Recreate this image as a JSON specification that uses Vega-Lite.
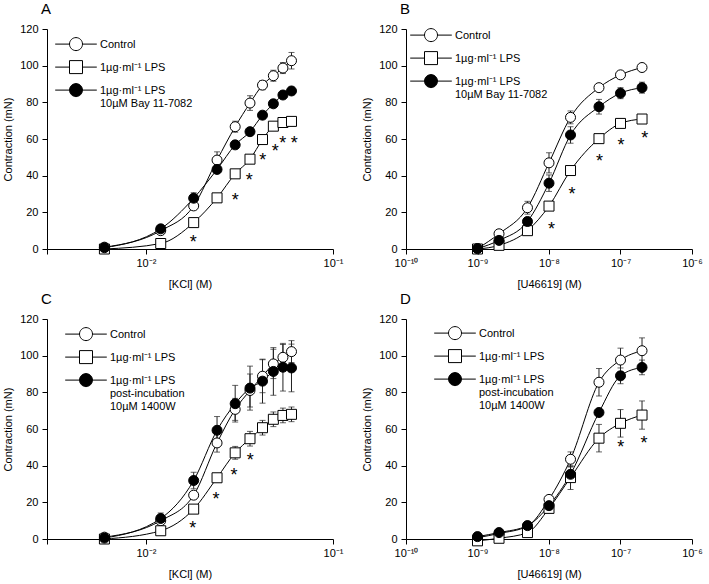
{
  "$schema": "https://vega.github.io/schema/vega-lite/v6.json",
  "padding": {"left": 2, "top": 2, "right": 2, "bottom": 2},
  "config": {
    "font": "Liberation Sans",
    "view": {"stroke": null},
    "style": {"guide-label": {"lineHeight": 13}},
    "axis": {"domainColor": "black", "tickColor": "black", "labelColor": "black", "titleColor": "black", "labelFontSize": 11, "titleFontSize": 11, "titleFontWeight": "normal", "grid": false, "tickSize": 5, "labelFont": "Liberation Sans", "titleFont": "Liberation Sans"},
    "axisY": {"labelPadding": 4, "titlePadding": 6},
    "axisX": {"labelPadding": 3, "titlePadding": 10, "labelFlush": false},
    "title": {"anchor": "start", "frame": "group", "fontSize": 15, "fontWeight": "normal", "offset": 6, "dx": -6, "font": "Liberation Sans", "color": "black"},
    "legend": {"orient": "none", "title": null, "symbolSize": 169, "labelOffset": 17, "rowPadding": 5, "labelFontSize": 11, "labelFont": "Liberation Sans", "labelColor": "black", "labelBaseline": "alphabetic", "symbolStrokeWidth": 1, "symbolOpacity": 1, "padding": 0, "labelLimit": 0},
    "concat": {"spacing": 18}
  },
  "datasets": {
    "A": [
      {"c": 0.006, "s": "ctl", "y": 1, "e": 0.5}, {"c": 0.012, "s": "ctl", "y": 10, "e": 1}, {"c": 0.018, "s": "ctl", "y": 23.5, "e": 2}, {"c": 0.024, "s": "ctl", "y": 48.5, "e": 4.5}, {"c": 0.030, "s": "ctl", "y": 66.7, "e": 3}, {"c": 0.036, "s": "ctl", "y": 79.6, "e": 4}, {"c": 0.042, "s": "ctl", "y": 89.4, "e": 2.5}, {"c": 0.048, "s": "ctl", "y": 94.5, "e": 3}, {"c": 0.054, "s": "ctl", "y": 98.7, "e": 3}, {"c": 0.060, "s": "ctl", "y": 102.7, "e": 4.5},
      {"c": 0.006, "s": "lps", "y": 0, "e": 0.5}, {"c": 0.012, "s": "lps", "y": 3, "e": 1}, {"c": 0.018, "s": "lps", "y": 14.4, "e": 1.5}, {"c": 0.024, "s": "lps", "y": 27.9, "e": 2}, {"c": 0.030, "s": "lps", "y": 41, "e": 2}, {"c": 0.036, "s": "lps", "y": 49, "e": 2}, {"c": 0.042, "s": "lps", "y": 59.7, "e": 2}, {"c": 0.048, "s": "lps", "y": 67, "e": 2}, {"c": 0.054, "s": "lps", "y": 69, "e": 2}, {"c": 0.060, "s": "lps", "y": 69.6, "e": 2},
      {"c": 0.006, "s": "trt", "y": 0.7, "e": 0.5}, {"c": 0.012, "s": "trt", "y": 11, "e": 1.5}, {"c": 0.018, "s": "trt", "y": 27.7, "e": 3}, {"c": 0.024, "s": "trt", "y": 43.4, "e": 2}, {"c": 0.030, "s": "trt", "y": 56.8, "e": 2}, {"c": 0.036, "s": "trt", "y": 64, "e": 2}, {"c": 0.042, "s": "trt", "y": 73, "e": 2}, {"c": 0.048, "s": "trt", "y": 79.2, "e": 2}, {"c": 0.054, "s": "trt", "y": 84, "e": 2}, {"c": 0.060, "s": "trt", "y": 86.2, "e": 2}
    ],
    "Aa": [
      {"c": 0.0179, "y": 5.8}, {"c": 0.0300, "y": 29.1}, {"c": 0.0357, "y": 39.7}, {"c": 0.0421, "y": 50.6}, {"c": 0.0491, "y": 55.5}, {"c": 0.0538, "y": 60}, {"c": 0.0621, "y": 60}
    ],
    "B": [
      {"c": 1e-9, "s": "ctl", "y": 0.2, "e": 0.5}, {"c": 2e-9, "s": "ctl", "y": 8.3, "e": 1}, {"c": 5e-9, "s": "ctl", "y": 22.5, "e": 3.5}, {"c": 1e-8, "s": "ctl", "y": 47, "e": 5.5}, {"c": 2e-8, "s": "ctl", "y": 71.8, "e": 3.5}, {"c": 5e-8, "s": "ctl", "y": 88, "e": 1.5}, {"c": 1e-7, "s": "ctl", "y": 95, "e": 1.5}, {"c": 2e-7, "s": "ctl", "y": 99, "e": 1.5},
      {"c": 1e-9, "s": "lps", "y": 0, "e": 0.3}, {"c": 2e-9, "s": "lps", "y": 2, "e": 0.5}, {"c": 5e-9, "s": "lps", "y": 10, "e": 1}, {"c": 1e-8, "s": "lps", "y": 23.4, "e": 1.5}, {"c": 2e-8, "s": "lps", "y": 42.8, "e": 2}, {"c": 5e-8, "s": "lps", "y": 60.2, "e": 2}, {"c": 1e-7, "s": "lps", "y": 68.5, "e": 2}, {"c": 2e-7, "s": "lps", "y": 70.9, "e": 2},
      {"c": 1e-9, "s": "trt", "y": 0.2, "e": 0.5}, {"c": 2e-9, "s": "trt", "y": 4.7, "e": 1}, {"c": 5e-9, "s": "trt", "y": 15, "e": 2}, {"c": 1e-8, "s": "trt", "y": 35.9, "e": 4.5}, {"c": 2e-8, "s": "trt", "y": 62.2, "e": 4.5}, {"c": 5e-8, "s": "trt", "y": 77.6, "e": 4}, {"c": 1e-7, "s": "trt", "y": 85, "e": 3}, {"c": 2e-7, "s": "trt", "y": 88, "e": 3}
    ],
    "Ba": [
      {"c": 1.08e-8, "y": 12.9}, {"c": 2.1e-8, "y": 32.4}, {"c": 5.08e-8, "y": 50.4}, {"c": 1.02e-7, "y": 59}, {"c": 2.18e-7, "y": 63}
    ],
    "C": [
      {"c": 0.006, "s": "ctl", "y": 1, "e": 0.5}, {"c": 0.012, "s": "ctl", "y": 10, "e": 1}, {"c": 0.018, "s": "ctl", "y": 23.9, "e": 2}, {"c": 0.024, "s": "ctl", "y": 52.4, "e": 5}, {"c": 0.030, "s": "ctl", "y": 70.7, "e": 6}, {"c": 0.036, "s": "ctl", "y": 81, "e": 9}, {"c": 0.042, "s": "ctl", "y": 88.8, "e": 9}, {"c": 0.048, "s": "ctl", "y": 95.5, "e": 8}, {"c": 0.054, "s": "ctl", "y": 99.1, "e": 7}, {"c": 0.060, "s": "ctl", "y": 102.2, "e": 6},
      {"c": 0.006, "s": "lps", "y": 0, "e": 0.5}, {"c": 0.012, "s": "lps", "y": 4.5, "e": 1}, {"c": 0.018, "s": "lps", "y": 16.3, "e": 1.5}, {"c": 0.024, "s": "lps", "y": 33.4, "e": 2}, {"c": 0.030, "s": "lps", "y": 47, "e": 3.5}, {"c": 0.036, "s": "lps", "y": 54.7, "e": 4}, {"c": 0.042, "s": "lps", "y": 60.7, "e": 4}, {"c": 0.048, "s": "lps", "y": 65.3, "e": 4}, {"c": 0.054, "s": "lps", "y": 67.4, "e": 4}, {"c": 0.060, "s": "lps", "y": 68, "e": 4},
      {"c": 0.006, "s": "trt", "y": 0.5, "e": 0.5}, {"c": 0.012, "s": "trt", "y": 11.2, "e": 3}, {"c": 0.018, "s": "trt", "y": 31.9, "e": 4.5}, {"c": 0.024, "s": "trt", "y": 59.3, "e": 7.5}, {"c": 0.030, "s": "trt", "y": 73.8, "e": 10}, {"c": 0.036, "s": "trt", "y": 82.3, "e": 12}, {"c": 0.042, "s": "trt", "y": 86.1, "e": 12}, {"c": 0.048, "s": "trt", "y": 91.4, "e": 13}, {"c": 0.054, "s": "trt", "y": 93.7, "e": 13}, {"c": 0.060, "s": "trt", "y": 93.3, "e": 13}
    ],
    "Ca": [
      {"c": 0.0178, "y": 8}, {"c": 0.0237, "y": 23.9}, {"c": 0.0296, "y": 37.2}, {"c": 0.0361, "y": 45.1}
    ],
    "D": [
      {"c": 1e-9, "s": "ctl", "y": 0.7, "e": 0.5}, {"c": 2e-9, "s": "ctl", "y": 3, "e": 0.5}, {"c": 5e-9, "s": "ctl", "y": 7, "e": 1}, {"c": 1e-8, "s": "ctl", "y": 21.6, "e": 2}, {"c": 2e-8, "s": "ctl", "y": 43.5, "e": 4}, {"c": 5e-8, "s": "ctl", "y": 85.5, "e": 7.5}, {"c": 1e-7, "s": "ctl", "y": 97.6, "e": 6.5}, {"c": 2e-7, "s": "ctl", "y": 102.7, "e": 7},
      {"c": 1e-9, "s": "lps", "y": -1, "e": 0.5}, {"c": 2e-9, "s": "lps", "y": 0.4, "e": 0.5}, {"c": 5e-9, "s": "lps", "y": 3.5, "e": 1}, {"c": 1e-8, "s": "lps", "y": 16.7, "e": 2}, {"c": 2e-8, "s": "lps", "y": 33.5, "e": 6.5}, {"c": 5e-8, "s": "lps", "y": 55, "e": 7.5}, {"c": 1e-7, "s": "lps", "y": 63.1, "e": 7.5}, {"c": 2e-7, "s": "lps", "y": 67.6, "e": 7.7},
      {"c": 1e-9, "s": "trt", "y": 1.3, "e": 0.5}, {"c": 2e-9, "s": "trt", "y": 3.5, "e": 0.5}, {"c": 5e-9, "s": "trt", "y": 7.3, "e": 1}, {"c": 1e-8, "s": "trt", "y": 18.2, "e": 2}, {"c": 2e-8, "s": "trt", "y": 35.3, "e": 4}, {"c": 5e-8, "s": "trt", "y": 69, "e": 2}, {"c": 1e-7, "s": "trt", "y": 89, "e": 4.3}, {"c": 2e-7, "s": "trt", "y": 93.6, "e": 4}
    ],
    "Da": [
      {"c": 1.01e-7, "y": 52.2}, {"c": 2.13e-7, "y": 54.4}
    ]
  },
  "vconcat": [
    {
      "hconcat": [
        {
          "title": "A",
          "width": 286, "height": 220,
          "data": {"name": "A"},
          "encoding": {
            "x": {"field": "c", "type": "quantitative", "scale": {"type": "log", "domain": [0.00296, 0.1], "nice": false}, "axis": {"title": "[KCl] (M)", "values": [0.00296, 0.01, 0.1], "labelExpr": "datum.value > 0.05 ? '10⁻¹' : datum.value > 0.005 ? '10⁻²' : ''"}},
            "y": {"field": "y", "type": "quantitative", "scale": {"domain": [0, 120], "nice": false, "zero": false}, "axis": {"title": "Contraction (mN)", "values": [0, 20, 40, 60, 80, 100, 120]}}
          },
          "layer": [
            {"mark": {"type": "errorbar", "ticks": {"size": 6, "color": "#222"}, "rule": {"color": "#222"}}, "encoding": {"yError": {"field": "e"}}},
            {"mark": {"type": "line", "interpolate": "monotone", "color": "black", "strokeWidth": 1}, "encoding": {"detail": {"field": "s"}}},
            {"mark": {"type": "point", "filled": true, "stroke": "black", "strokeWidth": 1, "opacity": 1, "size": 100},
             "encoding": {"shape": {"field": "s", "scale": {"domain": ["ctl", "lps", "trt"], "range": ["circle", "square", "circle"]}, "legend": null},
                          "fill": {"field": "s", "scale": {"domain": ["ctl", "lps", "trt"], "range": ["white", "white", "black"]}, "legend": null}}},
            {"transform": [{"filter": "datum.c < 0"}],
             "mark": {"type": "point", "filled": true, "stroke": "black", "strokeWidth": 1, "opacity": 1},
             "encoding": {"shape": {"field": "s", "scale": {"domain": ["ctl", "lps", "trt"], "range": ["M-3.2,-0.6H-1M1,-0.6H3.2M1,-0.6A1,1,0,1,1,-1,-0.6A1,1,0,1,1,1,-0.6Z", "M-3.2,-0.6H-1M1,-0.6H3.2M-1,-1.6H1V0.4H-1Z", "M-3.2,-0.6H-1M1,-0.6H3.2M1,-0.6A1,1,0,1,1,-1,-0.6A1,1,0,1,1,1,-0.6Z"]},
                                    "legend": {"legendX": 22, "legendY": 12, "labelExpr": "datum.label == 'ctl' ? 'Control' : datum.label == 'lps' ? '1µg·ml⁻¹ LPS' : ['1µg·ml⁻¹ LPS', '10µM Bay 11-7082']"}},
                          "fill": {"field": "s", "scale": {"domain": ["ctl", "lps", "trt"], "range": ["white", "white", "black"]},
                                   "legend": {"legendX": 22, "legendY": 12, "labelExpr": "datum.label == 'ctl' ? 'Control' : datum.label == 'lps' ? '1µg·ml⁻¹ LPS' : ['1µg·ml⁻¹ LPS', '10µM Bay 11-7082']"}}}},
            {"data": {"name": "Aa"}, "mark": {"type": "text", "text": "*", "fontSize": 18, "baseline": "alphabetic", "dy": 10, "color": "black"}}
          ],
          "resolve": {"scale": {"shape": "independent", "fill": "independent"}}
        },
        {
          "title": "B",
          "width": 286, "height": 220,
          "data": {"name": "B"},
          "encoding": {
            "x": {"field": "c", "type": "quantitative", "scale": {"type": "log", "domain": [1e-10, 1e-6], "nice": false}, "axis": {"title": "[U46619] (M)", "values": [1e-10, 1e-9, 1e-8, 1e-7, 1e-6], "labelExpr": "datum.value > 5e-7 ? '10⁻⁶' : datum.value > 5e-8 ? '10⁻⁷' : datum.value > 5e-9 ? '10⁻⁸' : datum.value > 5e-10 ? '10⁻⁹' : '10⁻¹⁰'"}},
            "y": {"field": "y", "type": "quantitative", "scale": {"domain": [0, 120], "nice": false, "zero": false}, "axis": {"title": "Contraction (mN)", "values": [0, 20, 40, 60, 80, 100, 120]}}
          },
          "layer": [
            {"mark": {"type": "errorbar", "ticks": {"size": 6, "color": "#222"}, "rule": {"color": "#222"}}, "encoding": {"yError": {"field": "e"}}},
            {"mark": {"type": "line", "interpolate": "monotone", "color": "black", "strokeWidth": 1}, "encoding": {"detail": {"field": "s"}}},
            {"mark": {"type": "point", "filled": true, "stroke": "black", "strokeWidth": 1, "opacity": 1, "size": 100},
             "encoding": {"shape": {"field": "s", "scale": {"domain": ["ctl", "lps", "trt"], "range": ["circle", "square", "circle"]}, "legend": null},
                          "fill": {"field": "s", "scale": {"domain": ["ctl", "lps", "trt"], "range": ["white", "white", "black"]}, "legend": null}}},
            {"transform": [{"filter": "datum.c < 0"}],
             "mark": {"type": "point", "filled": true, "stroke": "black", "strokeWidth": 1, "opacity": 1},
             "encoding": {"shape": {"field": "s", "scale": {"domain": ["ctl", "lps", "trt"], "range": ["M-3.2,-0.6H-1M1,-0.6H3.2M1,-0.6A1,1,0,1,1,-1,-0.6A1,1,0,1,1,1,-0.6Z", "M-3.2,-0.6H-1M1,-0.6H3.2M-1,-1.6H1V0.4H-1Z", "M-3.2,-0.6H-1M1,-0.6H3.2M1,-0.6A1,1,0,1,1,-1,-0.6A1,1,0,1,1,1,-0.6Z"]},
                                    "legend": {"legendX": 18, "legendY": 3, "labelExpr": "datum.label == 'ctl' ? 'Control' : datum.label == 'lps' ? '1µg·ml⁻¹ LPS' : ['1µg·ml⁻¹ LPS', '10µM Bay 11-7082']"}},
                          "fill": {"field": "s", "scale": {"domain": ["ctl", "lps", "trt"], "range": ["white", "white", "black"]},
                                   "legend": {"legendX": 18, "legendY": 3, "labelExpr": "datum.label == 'ctl' ? 'Control' : datum.label == 'lps' ? '1µg·ml⁻¹ LPS' : ['1µg·ml⁻¹ LPS', '10µM Bay 11-7082']"}}}},
            {"data": {"name": "Ba"}, "mark": {"type": "text", "text": "*", "fontSize": 18, "baseline": "alphabetic", "dy": 10, "color": "black"}}
          ],
          "resolve": {"scale": {"shape": "independent", "fill": "independent"}}
        }
      ]
    },
    {
      "hconcat": [
        {
          "title": "C",
          "width": 286, "height": 220,
          "data": {"name": "C"},
          "encoding": {
            "x": {"field": "c", "type": "quantitative", "scale": {"type": "log", "domain": [0.00296, 0.1], "nice": false}, "axis": {"title": "[KCl] (M)", "values": [0.00296, 0.01, 0.1], "labelExpr": "datum.value > 0.05 ? '10⁻¹' : datum.value > 0.005 ? '10⁻²' : ''"}},
            "y": {"field": "y", "type": "quantitative", "scale": {"domain": [0, 120], "nice": false, "zero": false}, "axis": {"title": "Contraction (mN)", "values": [0, 20, 40, 60, 80, 100, 120]}}
          },
          "layer": [
            {"mark": {"type": "errorbar", "ticks": {"size": 6, "color": "#222"}, "rule": {"color": "#222"}}, "encoding": {"yError": {"field": "e"}}},
            {"mark": {"type": "line", "interpolate": "monotone", "color": "black", "strokeWidth": 1}, "encoding": {"detail": {"field": "s"}}},
            {"mark": {"type": "point", "filled": true, "stroke": "black", "strokeWidth": 1, "opacity": 1, "size": 100},
             "encoding": {"shape": {"field": "s", "scale": {"domain": ["ctl", "lps", "trt"], "range": ["circle", "square", "circle"]}, "legend": null},
                          "fill": {"field": "s", "scale": {"domain": ["ctl", "lps", "trt"], "range": ["white", "white", "black"]}, "legend": null}}},
            {"transform": [{"filter": "datum.c < 0"}],
             "mark": {"type": "point", "filled": true, "stroke": "black", "strokeWidth": 1, "opacity": 1},
             "encoding": {"shape": {"field": "s", "scale": {"domain": ["ctl", "lps", "trt"], "range": ["M-3.2,-0.6H-1M1,-0.6H3.2M1,-0.6A1,1,0,1,1,-1,-0.6A1,1,0,1,1,1,-0.6Z", "M-3.2,-0.6H-1M1,-0.6H3.2M-1,-1.6H1V0.4H-1Z", "M-3.2,-0.6H-1M1,-0.6H3.2M1,-0.6A1,1,0,1,1,-1,-0.6A1,1,0,1,1,1,-0.6Z"]},
                                    "legend": {"legendX": 32, "legendY": 12, "labelExpr": "datum.label == 'ctl' ? 'Control' : datum.label == 'lps' ? '1µg·ml⁻¹ LPS' : ['1µg·ml⁻¹ LPS', 'post-incubation', '10µM 1400W']"}},
                          "fill": {"field": "s", "scale": {"domain": ["ctl", "lps", "trt"], "range": ["white", "white", "black"]},
                                   "legend": {"legendX": 32, "legendY": 12, "labelExpr": "datum.label == 'ctl' ? 'Control' : datum.label == 'lps' ? '1µg·ml⁻¹ LPS' : ['1µg·ml⁻¹ LPS', 'post-incubation', '10µM 1400W']"}}}},
            {"data": {"name": "Ca"}, "mark": {"type": "text", "text": "*", "fontSize": 18, "baseline": "alphabetic", "dy": 10, "color": "black"}}
          ],
          "resolve": {"scale": {"shape": "independent", "fill": "independent"}}
        },
        {
          "title": "D",
          "width": 286, "height": 220,
          "data": {"name": "D"},
          "encoding": {
            "x": {"field": "c", "type": "quantitative", "scale": {"type": "log", "domain": [1e-10, 1e-6], "nice": false}, "axis": {"title": "[U46619] (M)", "values": [1e-10, 1e-9, 1e-8, 1e-7, 1e-6], "labelExpr": "datum.value > 5e-7 ? '10⁻⁶' : datum.value > 5e-8 ? '10⁻⁷' : datum.value > 5e-9 ? '10⁻⁸' : datum.value > 5e-10 ? '10⁻⁹' : '10⁻¹⁰'"}},
            "y": {"field": "y", "type": "quantitative", "scale": {"domain": [0, 120], "nice": false, "zero": false}, "axis": {"title": "Contraction (mN)", "values": [0, 20, 40, 60, 80, 100, 120]}}
          },
          "layer": [
            {"mark": {"type": "errorbar", "ticks": {"size": 6, "color": "#222"}, "rule": {"color": "#222"}}, "encoding": {"yError": {"field": "e"}}},
            {"mark": {"type": "line", "interpolate": "monotone", "color": "black", "strokeWidth": 1}, "encoding": {"detail": {"field": "s"}}},
            {"mark": {"type": "point", "filled": true, "stroke": "black", "strokeWidth": 1, "opacity": 1, "size": 100},
             "encoding": {"shape": {"field": "s", "scale": {"domain": ["ctl", "lps", "trt"], "range": ["circle", "square", "circle"]}, "legend": null},
                          "fill": {"field": "s", "scale": {"domain": ["ctl", "lps", "trt"], "range": ["white", "white", "black"]}, "legend": null}}},
            {"transform": [{"filter": "datum.c < 0"}],
             "mark": {"type": "point", "filled": true, "stroke": "black", "strokeWidth": 1, "opacity": 1},
             "encoding": {"shape": {"field": "s", "scale": {"domain": ["ctl", "lps", "trt"], "range": ["M-3.2,-0.6H-1M1,-0.6H3.2M1,-0.6A1,1,0,1,1,-1,-0.6A1,1,0,1,1,1,-0.6Z", "M-3.2,-0.6H-1M1,-0.6H3.2M-1,-1.6H1V0.4H-1Z", "M-3.2,-0.6H-1M1,-0.6H3.2M1,-0.6A1,1,0,1,1,-1,-0.6A1,1,0,1,1,1,-0.6Z"]},
                                    "legend": {"legendX": 42, "legendY": 11, "labelExpr": "datum.label == 'ctl' ? 'Control' : datum.label == 'lps' ? '1µg·ml⁻¹ LPS' : ['1µg·ml⁻¹ LPS', 'post-incubation', '10µM 1400W']"}},
                          "fill": {"field": "s", "scale": {"domain": ["ctl", "lps", "trt"], "range": ["white", "white", "black"]},
                                   "legend": {"legendX": 42, "legendY": 11, "labelExpr": "datum.label == 'ctl' ? 'Control' : datum.label == 'lps' ? '1µg·ml⁻¹ LPS' : ['1µg·ml⁻¹ LPS', 'post-incubation', '10µM 1400W']"}}}},
            {"data": {"name": "Da"}, "mark": {"type": "text", "text": "*", "fontSize": 18, "baseline": "alphabetic", "dy": 10, "color": "black"}}
          ],
          "resolve": {"scale": {"shape": "independent", "fill": "independent"}}
        }
      ]
    }
  ],
  "spacing": 3
}
